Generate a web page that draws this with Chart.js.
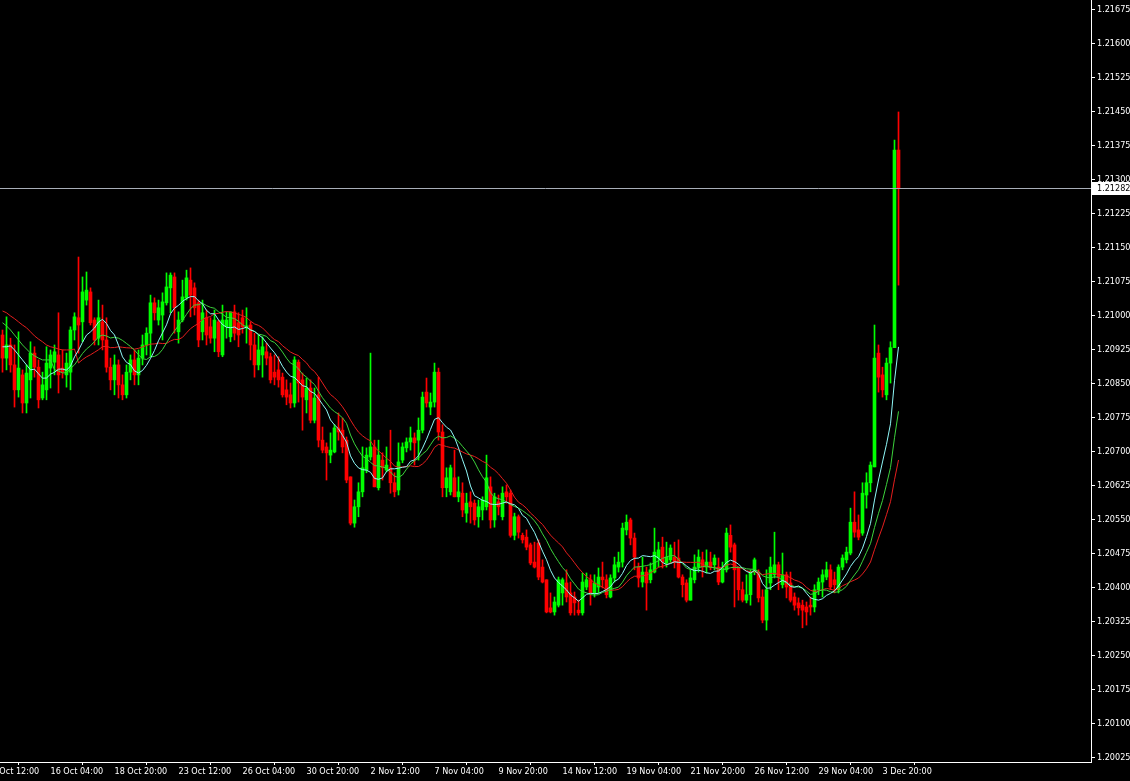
<!DOCTYPE html>
<html>
<head>
<meta charset="utf-8">
<title>H4 chart</title>
<script src="https://cdn.jsdelivr.net/npm/chart.js@4.4.1/dist/chart.umd.min.js"></script>
<style>
  html, body { margin: 0; padding: 0; background: #000; overflow: hidden; }
  #chart { display: block; }
</style>
</head>
<body>
<canvas id="chart" width="1130" height="781"></canvas>
<script>
// H4 candles, oldest first
const opens = [
  1.20958, 1.20907, 1.20936, 1.20892, 1.20837, 1.20870, 1.20808, 1.20859, 1.20918, 1.20887,
  1.20819, 1.20837, 1.20885, 1.20898, 1.20914, 1.20885, 1.20870, 1.20876, 1.20969, 1.20996,
  1.20987, 1.21035, 1.21053, 1.20991, 1.20951, 1.20987, 1.20947, 1.20887, 1.20859, 1.20892,
  1.20848, 1.20826, 1.20876, 1.20903, 1.20870, 1.20907, 1.20936, 1.20962, 1.21029, 1.20991,
  1.21002, 1.21029, 1.21062, 1.21086, 1.20965, 1.20991, 1.21040, 1.21079, 1.21062, 1.21029,
  1.20965, 1.20996, 1.20976, 1.20951, 1.20987, 1.20914, 1.20976, 1.20954, 1.21009, 1.20985,
  1.20996, 1.20974, 1.20980, 1.20936, 1.20892, 1.20914, 1.20921, 1.20910, 1.20876, 1.20881,
  1.20865, 1.20837, 1.20826, 1.20808, 1.20898, 1.20859, 1.20815, 1.20841, 1.20770, 1.20826,
  1.20726, 1.20711, 1.20693, 1.20700, 1.20753, 1.20748, 1.20726, 1.20645, 1.20543, 1.20579,
  1.20612, 1.20660, 1.20689, 1.20711, 1.20621, 1.20682, 1.20660, 1.20665, 1.20632, 1.20616,
  1.20682, 1.20709, 1.20722, 1.20731, 1.20726, 1.20748, 1.20832, 1.20799, 1.20810, 1.20876,
  1.20744, 1.20621, 1.20612, 1.20643, 1.20601, 1.20609, 1.20565, 1.20590, 1.20587, 1.20557,
  1.20572, 1.20579, 1.20623, 1.20550, 1.20590, 1.20557, 1.20612, 1.20609, 1.20516, 1.20557,
  1.20516, 1.20512, 1.20495, 1.20457, 1.20499, 1.20446, 1.20418, 1.20356, 1.20347, 1.20362,
  1.20389, 1.20411, 1.20389, 1.20380, 1.20351, 1.20345, 1.20402, 1.20418, 1.20389, 1.20402,
  1.20424, 1.20418, 1.20380, 1.20422, 1.20446, 1.20457, 1.20528, 1.20550, 1.20510, 1.20446,
  1.20413, 1.20435, 1.20418, 1.20435, 1.20466, 1.20490, 1.20455, 1.20462, 1.20468, 1.20466,
  1.20424, 1.20411, 1.20373, 1.20418, 1.20446, 1.20462, 1.20446, 1.20457, 1.20451, 1.20446,
  1.20413, 1.20440, 1.20516, 1.20495, 1.20444, 1.20396, 1.20373, 1.20385, 1.20435, 1.20435,
  1.20380, 1.20329, 1.20411, 1.20429, 1.20451, 1.20407, 1.20429, 1.20411, 1.20380, 1.20367,
  1.20362, 1.20358, 1.20362, 1.20358, 1.20396, 1.20413, 1.20424, 1.20440, 1.20418, 1.20396,
  1.20446, 1.20462, 1.20477, 1.20545, 1.20528, 1.20521, 1.20605, 1.20632, 1.20667, 1.20918,
  1.20870, 1.20826, 1.20896, 1.20930, 1.21366
];
const highs = [
  1.20969, 1.20998, 1.20951, 1.20936, 1.20965, 1.20881, 1.20892, 1.20943, 1.20932, 1.20903,
  1.20876, 1.20932, 1.20925, 1.20936, 1.21007, 1.20925, 1.20918, 1.20976, 1.21007, 1.21130,
  1.21086, 1.21097, 1.21062, 1.20996, 1.21035, 1.21024, 1.20996, 1.20907, 1.20914, 1.20903,
  1.20870, 1.20892, 1.20914, 1.20925, 1.20925, 1.20958, 1.20974, 1.21046, 1.21040, 1.21035,
  1.21051, 1.21095, 1.21095, 1.21095, 1.21009, 1.21079, 1.21101, 1.21106, 1.21073, 1.21035,
  1.21035, 1.21013, 1.20996, 1.21013, 1.20991, 1.21024, 1.21009, 1.21009, 1.21024, 1.21007,
  1.21013, 1.21018, 1.20987, 1.20962, 1.20958, 1.20954, 1.20940, 1.20918, 1.20914, 1.20910,
  1.20874, 1.20859, 1.20852, 1.20910, 1.20903, 1.20874, 1.20863, 1.20859, 1.20841, 1.20865,
  1.20755, 1.20720, 1.20742, 1.20760, 1.20786, 1.20775, 1.20733, 1.20645, 1.20594, 1.20632,
  1.20711, 1.20709, 1.20918, 1.20726, 1.20726, 1.20698, 1.20711, 1.20748, 1.20654, 1.20720,
  1.20720, 1.20731, 1.20755, 1.20742, 1.20775, 1.20832, 1.20863, 1.20830, 1.20896, 1.20885,
  1.20760, 1.20665, 1.20671, 1.20704, 1.20645, 1.20632, 1.20609, 1.20612, 1.20594, 1.20594,
  1.20601, 1.20693, 1.20645, 1.20609, 1.20605, 1.20623, 1.20627, 1.20616, 1.20565, 1.20561,
  1.20521, 1.20528, 1.20499, 1.20501, 1.20506, 1.20462, 1.20418, 1.20389, 1.20380, 1.20424,
  1.20422, 1.20440, 1.20413, 1.20391, 1.20373, 1.20433, 1.20433, 1.20429, 1.20429, 1.20444,
  1.20457, 1.20429, 1.20429, 1.20468, 1.20479, 1.20543, 1.20561, 1.20554, 1.20521, 1.20455,
  1.20468, 1.20446, 1.20455, 1.20532, 1.20501, 1.20512, 1.20501, 1.20495, 1.20501, 1.20506,
  1.20429, 1.20418, 1.20440, 1.20473, 1.20484, 1.20479, 1.20484, 1.20479, 1.20473, 1.20466,
  1.20457, 1.20532, 1.20539, 1.20499, 1.20446, 1.20413, 1.20429, 1.20440, 1.20466, 1.20440,
  1.20396, 1.20440, 1.20468, 1.20523, 1.20457, 1.20477, 1.20435, 1.20435, 1.20389, 1.20378,
  1.20373, 1.20369, 1.20380, 1.20407, 1.20422, 1.20440, 1.20457, 1.20451, 1.20435, 1.20451,
  1.20473, 1.20490, 1.20576, 1.20612, 1.20561, 1.20632, 1.20654, 1.20678, 1.20980, 1.20936,
  1.20887, 1.20907, 1.20943, 1.21388, 1.21450
];
const lows = [
  1.20876, 1.20881, 1.20876, 1.20799, 1.20821, 1.20786, 1.20786, 1.20819, 1.20865, 1.20797,
  1.20815, 1.20815, 1.20841, 1.20870, 1.20830, 1.20863, 1.20843, 1.20837, 1.20947, 1.20918,
  1.20943, 1.21024, 1.20980, 1.20936, 1.20936, 1.20925, 1.20876, 1.20837, 1.20826, 1.20819,
  1.20815, 1.20819, 1.20859, 1.20848, 1.20848, 1.20892, 1.20914, 1.20910, 1.20991, 1.20980,
  1.20947, 1.21024, 1.21007, 1.20962, 1.20940, 1.20987, 1.21035, 1.20998, 1.21002, 1.20932,
  1.20947, 1.20936, 1.20940, 1.20921, 1.20910, 1.20910, 1.20951, 1.20943, 1.20947, 1.20932,
  1.20962, 1.20940, 1.20903, 1.20865, 1.20881, 1.20865, 1.20892, 1.20852, 1.20848, 1.20843,
  1.20821, 1.20804, 1.20797, 1.20799, 1.20810, 1.20748, 1.20786, 1.20764, 1.20764, 1.20711,
  1.20698, 1.20638, 1.20676, 1.20698, 1.20726, 1.20698, 1.20632, 1.20539, 1.20534, 1.20557,
  1.20601, 1.20654, 1.20682, 1.20623, 1.20616, 1.20638, 1.20656, 1.20609, 1.20601, 1.20605,
  1.20676, 1.20700, 1.20704, 1.20671, 1.20682, 1.20742, 1.20799, 1.20782, 1.20799, 1.20726,
  1.20601, 1.20601, 1.20605, 1.20601, 1.20590, 1.20557, 1.20545, 1.20543, 1.20539, 1.20534,
  1.20550, 1.20572, 1.20532, 1.20534, 1.20561, 1.20550, 1.20587, 1.20512, 1.20506, 1.20510,
  1.20499, 1.20484, 1.20451, 1.20444, 1.20418, 1.20411, 1.20345, 1.20345, 1.20340, 1.20358,
  1.20362, 1.20369, 1.20340, 1.20340, 1.20340, 1.20340, 1.20396, 1.20362, 1.20380, 1.20389,
  1.20400, 1.20378, 1.20378, 1.20413, 1.20435, 1.20446, 1.20517, 1.20495, 1.20440, 1.20402,
  1.20402, 1.20351, 1.20411, 1.20433, 1.20446, 1.20444, 1.20446, 1.20455, 1.20444, 1.20422,
  1.20380, 1.20369, 1.20373, 1.20411, 1.20435, 1.20424, 1.20433, 1.20440, 1.20440, 1.20407,
  1.20411, 1.20435, 1.20479, 1.20358, 1.20373, 1.20369, 1.20367, 1.20362, 1.20429, 1.20369,
  1.20323, 1.20307, 1.20396, 1.20422, 1.20396, 1.20400, 1.20378, 1.20369, 1.20351, 1.20340,
  1.20312, 1.20318, 1.20340, 1.20347, 1.20385, 1.20380, 1.20418, 1.20396, 1.20389, 1.20389,
  1.20440, 1.20455, 1.20473, 1.20512, 1.20506, 1.20516, 1.20576, 1.20612, 1.20667, 1.20832,
  1.20821, 1.20815, 1.20852, 1.20930, 1.21068
];
const closes = [
  1.20907, 1.20936, 1.20892, 1.20837, 1.20885, 1.20808, 1.20874, 1.20918, 1.20887, 1.20815,
  1.20848, 1.20896, 1.20914, 1.20921, 1.20870, 1.20876, 1.20896, 1.20969, 1.20998, 1.20980,
  1.21053, 1.21057, 1.20985, 1.20947, 1.20996, 1.20947, 1.20887, 1.20859, 1.20892, 1.20848,
  1.20826, 1.20876, 1.20903, 1.20870, 1.20907, 1.20936, 1.20962, 1.21029, 1.21007, 1.21018,
  1.21031, 1.21064, 1.21090, 1.21018, 1.20991, 1.21042, 1.21084, 1.21046, 1.21018, 1.20947,
  1.21007, 1.20958, 1.20951, 1.20991, 1.20921, 1.20991, 1.20991, 1.21009, 1.20962, 1.20958,
  1.20976, 1.20978, 1.20936, 1.20892, 1.20925, 1.20932, 1.20907, 1.20859, 1.20865, 1.20859,
  1.20826, 1.20821, 1.20808, 1.20903, 1.20852, 1.20821, 1.20841, 1.20770, 1.20819, 1.20726,
  1.20704, 1.20698, 1.20704, 1.20753, 1.20744, 1.20711, 1.20638, 1.20543, 1.20579, 1.20612,
  1.20665, 1.20693, 1.20711, 1.20623, 1.20693, 1.20665, 1.20671, 1.20632, 1.20612, 1.20678,
  1.20711, 1.20722, 1.20731, 1.20720, 1.20748, 1.20821, 1.20808, 1.20810, 1.20876, 1.20744,
  1.20621, 1.20643, 1.20665, 1.20601, 1.20612, 1.20572, 1.20587, 1.20579, 1.20550, 1.20579,
  1.20594, 1.20643, 1.20550, 1.20601, 1.20579, 1.20609, 1.20601, 1.20516, 1.20557, 1.20523,
  1.20506, 1.20490, 1.20455, 1.20446, 1.20424, 1.20413, 1.20347, 1.20347, 1.20369, 1.20418,
  1.20418, 1.20380, 1.20345, 1.20367, 1.20345, 1.20413, 1.20418, 1.20389, 1.20411, 1.20424,
  1.20418, 1.20385, 1.20422, 1.20451, 1.20457, 1.20532, 1.20545, 1.20510, 1.20468, 1.20422,
  1.20435, 1.20411, 1.20440, 1.20479, 1.20484, 1.20457, 1.20468, 1.20488, 1.20457, 1.20424,
  1.20407, 1.20373, 1.20422, 1.20446, 1.20468, 1.20446, 1.20457, 1.20446, 1.20466, 1.20413,
  1.20444, 1.20521, 1.20490, 1.20440, 1.20396, 1.20373, 1.20385, 1.20435, 1.20462, 1.20378,
  1.20329, 1.20396, 1.20446, 1.20451, 1.20424, 1.20429, 1.20402, 1.20373, 1.20362, 1.20356,
  1.20351, 1.20347, 1.20358, 1.20396, 1.20413, 1.20429, 1.20440, 1.20402, 1.20407, 1.20446,
  1.20466, 1.20479, 1.20545, 1.20523, 1.20512, 1.20609, 1.20632, 1.20671, 1.20907, 1.20865,
  1.20837, 1.20896, 1.20930, 1.21366, 1.21282
];

// moving averages on the first bars, before their window is filled on screen
const fastMaStart = [1.20932, 1.20932, 1.20934, 1.20925, 1.20914, 1.20903, 1.20892, 1.20881];
const midMaStart = [1.20985, 1.20978, 1.20969, 1.20958, 1.20947, 1.20936, 1.20927, 1.20918,
  1.20912, 1.20907, 1.20903, 1.20903, 1.20903];
const slowMaStart = [1.21011, 1.21007, 1.21000, 1.20994, 1.20987, 1.20980, 1.20974, 1.20965,
  1.20956, 1.20949, 1.20943, 1.20936, 1.20932, 1.20930, 1.20927, 1.20925, 1.20925, 1.20925, 1.20927];
const fastPeriod = 9, midPeriod = 14, slowPeriod = 20;

// time axis
const timeLabels = ['11 Oct 12:00', '16 Oct 04:00', '18 Oct 20:00', '23 Oct 12:00', '26 Oct 04:00',
  '30 Oct 20:00', '2 Nov 12:00', '7 Nov 04:00', '9 Nov 20:00', '14 Nov 12:00', '19 Nov 04:00',
  '21 Nov 20:00', '26 Nov 12:00', '29 Nov 04:00', '3 Dec 20:00'];
const timeLabelBars = [-4, 12, 28, 44, 60, 76, 92, 108, 124, 140, 156, 172, 188, 204, 220];

// price axis
const priceTicks = [1.20025, 1.20100, 1.20175, 1.20250, 1.20325, 1.20400, 1.20475, 1.20550,
  1.20625, 1.20700, 1.20775, 1.20850, 1.20925, 1.21000, 1.21075, 1.21150, 1.21225, 1.21300,
  1.21375, 1.21450, 1.21525, 1.21600, 1.21675];
const priceMin = 1.20016, priceMax = 1.21697;
const barMin = -0.625, barMax = 272.125;

const upColor = '#00ff00';
const downColor = '#ff0000';
const axisFont = { family: '"DejaVu Sans Condensed", "Liberation Sans", sans-serif', size: 9 };

function sma(period, start) {
  return closes.map((c, i) => {
    if (i < period - 1) return start[i];
    let sum = 0;
    for (let k = i - period + 1; k <= i; k++) sum += closes[k];
    return sum / period;
  });
}

const candleColors = closes.map((c, i) => c >= opens[i] ? upColor : downColor);
const toPoints = arr => arr.map((v, i) => ({ x: i, y: v }));

const lastPrice = {
  id: 'lastPrice',
  afterDatasetsDraw(chart) {
    const { ctx, chartArea, scales } = chart;
    const y = Math.round(scales.y.getPixelForValue(closes[closes.length - 1])) + 0.5;
    ctx.save();
    ctx.strokeStyle = '#a8aeb8';
    ctx.lineWidth = 1;
    ctx.beginPath();
    ctx.moveTo(chartArea.left, y);
    ctx.lineTo(chartArea.right, y);
    ctx.stroke();
    ctx.restore();
  },
  afterDraw(chart) {
    const { ctx, chartArea, scales } = chart;
    const last = closes[closes.length - 1];
    const y = Math.round(scales.y.getPixelForValue(last));
    ctx.save();
    ctx.fillStyle = '#ffffff';
    ctx.fillRect(chartArea.right + 1, y - 6, chart.width - chartArea.right - 1, 13);
    ctx.fillStyle = '#000000';
    ctx.font = `${axisFont.size}px ${axisFont.family}`;
    ctx.textBaseline = 'middle';
    ctx.textAlign = 'left';
    ctx.fillText(last.toFixed(5), chartArea.right + 6, y + 0.5);
    ctx.restore();
  }
};

new Chart(document.getElementById('chart'), {
  type: 'bar',
  data: {
    datasets: [
      { type: 'line', data: toPoints(sma(fastPeriod, fastMaStart)), borderColor: '#8ff8f8', borderWidth: 1, pointRadius: 0, tension: 0, order: 0 },
      { type: 'line', data: toPoints(sma(midPeriod, midMaStart)), borderColor: '#3cd23c', borderWidth: 1, pointRadius: 0, tension: 0, order: 1 },
      { type: 'line', data: toPoints(sma(slowPeriod, slowMaStart)), borderColor: '#e61e1e', borderWidth: 1, pointRadius: 0, tension: 0, order: 2 },
      {
        data: opens.map((o, i) => ({ x: i, y: [o, closes[i]] })),
        backgroundColor: candleColors, borderWidth: 0, barThickness: 3, minBarLength: 1,
        grouped: false, order: 3
      },
      {
        data: lows.map((l, i) => ({ x: i, y: [l, highs[i]] })),
        backgroundColor: candleColors, borderWidth: 0, barThickness: 1, minBarLength: 1,
        grouped: false, order: 4
      }
    ]
  },
  options: {
    responsive: false,
    devicePixelRatio: 1,
    animation: false,
    events: [],
    layout: { padding: 0 },
    plugins: { legend: { display: false }, tooltip: { enabled: false } },
    scales: {
      x: {
        type: 'linear', min: barMin, max: barMax, offset: false,
        afterBuildTicks: s => { s.ticks = timeLabelBars.map(v => ({ value: v })); },
        afterFit: s => { s.height = 19; s.paddingLeft = 0; s.paddingRight = 0; },
        border: { color: '#ffffff', width: 1 },
        grid: { drawOnChartArea: false, color: '#ffffff', tickLength: 3 },
        ticks: {
          color: '#ffffff', font: axisFont, align: 'start', padding: 1,
          maxRotation: 0, autoSkip: false,
          callback: (v, i) => timeLabels[i]
        }
      },
      y: {
        type: 'linear', position: 'right', min: priceMin, max: priceMax,
        afterBuildTicks: s => { s.ticks = priceTicks.map(v => ({ value: v })); },
        afterFit: s => { s.width = 39; s.paddingTop = 0; s.paddingBottom = 0; },
        border: { color: '#ffffff', width: 1 },
        grid: { drawOnChartArea: false, color: '#ffffff', tickLength: 4 },
        ticks: { color: '#ffffff', font: axisFont, padding: 2, callback: v => v.toFixed(5) }
      }
    }
  },
  plugins: [lastPrice]
});
</script>
</body>
</html>
